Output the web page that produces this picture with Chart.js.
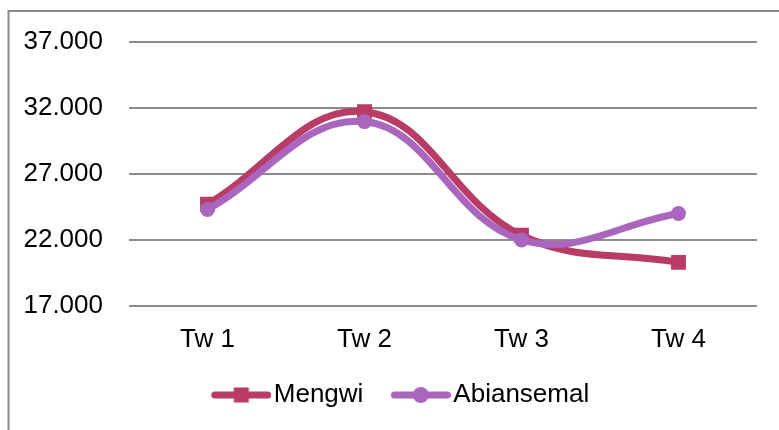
<!DOCTYPE html>
<html>
<head>
<meta charset="utf-8">
<script src="https://cdn.jsdelivr.net/npm/chart.js@4/dist/chart.umd.min.js"></script>
<style>
  html, body { margin: 0; padding: 0; background: #fff; }
  #c { display: block; }
</style>
</head>
<body>
<canvas id="c" width="779" height="430"></canvas>
<script>
const categories = ['Tw 1', 'Tw 2', 'Tw 3', 'Tw 4'];
const seriesNames = ['Mengwi', 'Abiansemal'];
const mengwi = [24700, 31700, 22350, 20300];
const abiansemal = [24300, 30950, 22000, 24000];
const yMin = 17000, yMax = 37000, yStep = 5000;

const colMengwi = '#B83B68';
const colAbian = '#AA66BD';
const FONT = "'Liberation Sans', Arial, sans-serif";

function fmt(v) {
  return Math.round(v).toString().replace(/\B(?=(\d{3})+(?!\d))/g, '.');
}

// legend icon: line with marker in the middle (asymmetric canvas for spacing)
function legendIcon(color, shape) {
  const c = document.createElement('canvas');
  c.width = 78; c.height = 20;
  const x = c.getContext('2d');
  x.strokeStyle = color; x.fillStyle = color;
  x.lineWidth = 7; x.lineCap = 'round';
  x.beginPath(); x.moveTo(21.5, 10); x.lineTo(74.5, 10); x.stroke();
  const cx = 48;
  if (shape === 'rect') {
    x.fillRect(cx - 7.5, 2.5, 15, 15);
  } else {
    x.beginPath(); x.arc(cx, 10, 8, 0, Math.PI * 2); x.fill();
  }
  return c;
}
const icons = [legendIcon(colMengwi, 'rect'), legendIcon(colAbian, 'circle')];

const framePlugin = {
  id: 'frame',
  beforeDraw(chart) {
    const ctx = chart.ctx;
    ctx.save();
    ctx.strokeStyle = '#8c8c8c';
    ctx.lineWidth = 2;
    ctx.beginPath();
    ctx.moveTo(8.5, 431);
    ctx.lineTo(8.5, 11);
    ctx.lineTo(780, 11);
    ctx.stroke();
    ctx.restore();
  }
};

const legendShift = {
  id: 'legendShift',
  afterLayout(chart) {
    if (chart.legend) {
      chart.legend.left += 18;
      chart.legend.right += 18;
    }
  }
};

Chart.defaults.font.family = FONT;
Chart.defaults.font.size = 26;
Chart.defaults.color = '#000';

new Chart(document.getElementById('c'), {
  type: 'line',
  data: {
    labels: categories,
    datasets: [
      {
        label: seriesNames[0],
        data: mengwi,
        borderColor: colMengwi,
        backgroundColor: colMengwi,
        borderWidth: 7,
        tension: 0.4,
        pointStyle: 'rect',
        pointRadius: 10.5,
        pointBorderWidth: 0,
        pointBackgroundColor: colMengwi,
        order: 2
      },
      {
        label: seriesNames[1],
        data: abiansemal,
        borderColor: colAbian,
        backgroundColor: colAbian,
        borderWidth: 7,
        tension: 0.4,
        pointStyle: 'circle',
        pointRadius: 7.5,
        pointBorderWidth: 0,
        pointBackgroundColor: colAbian,
        order: 1
      }
    ]
  },
  options: {
    responsive: false,
    animation: false,
    layout: { padding: { left: 0, right: 22, top: 39, bottom: 12 } },
    scales: {
      x: {
        offset: true,
        grid: { display: false, drawTicks: false },
        border: { display: false },
        ticks: { padding: 18, font: { size: 26 } },
        afterFit(scale) { scale.height = 56; }
      },
      y: {
        min: yMin,
        max: yMax,
        grid: { color: '#8c8c8c', lineWidth: 2, drawTicks: false },
        border: { display: false },
        ticks: {
          stepSize: yStep,
          padding: 26,
          font: { size: 26 },
          callback: (v) => fmt(v)
        },
        afterFit(scale) { scale.width = 129; }
      }
    },
    plugins: {
      legend: {
        position: 'bottom',
        labels: {
          usePointStyle: true,
          pointStyleWidth: 57,
          padding: 20,
          color: '#000',
          font: { size: 26 },
          sort: (a, b) => a.datasetIndex - b.datasetIndex,
          generateLabels(chart) {
            const items = Chart.defaults.plugins.legend.labels.generateLabels(chart);
            items.forEach((it) => { it.pointStyle = icons[it.datasetIndex]; });
            return items;
          }
        }
      },
      tooltip: { enabled: false }
    }
  },
  plugins: [framePlugin, legendShift]
});
</script>
</body>
</html>
